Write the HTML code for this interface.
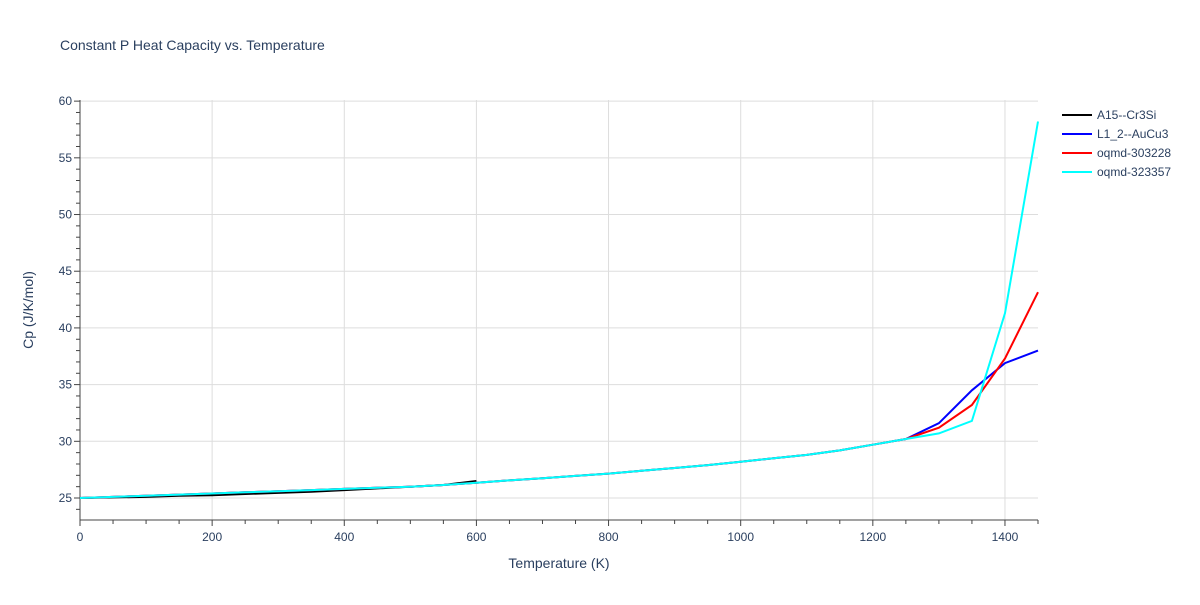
<!DOCTYPE html>
<html><head><meta charset="utf-8"><style>
body{margin:0;background:#fff;font-family:"Liberation Sans",sans-serif;}
svg text{font-family:"Liberation Sans",sans-serif;fill:#2a3f5f;}
</style></head><body>
<svg id="chart" width="1200" height="600">
<text x="60" y="50" font-size="14">Constant P Heat Capacity vs. Temperature</text>
<g id="grid"></g><g id="axes"></g><g id="series"></g><g id="legend"></g>
<text x="559" y="568" font-size="14" text-anchor="middle">Temperature (K)</text>
<text transform="translate(33,310) rotate(-90)" font-size="14" text-anchor="middle">Cp (J/K/mol)</text>
</svg>
<script>
const xTicks=[0,200,400,600,800,1000,1200,1400];
const yTicks=[25,30,35,40,45,50,55,60];
const tempsA=[0,50,100,150,200,250,300,350,400,450,500,550,600];
const cpA=[25.0,25.05,25.1,25.2,25.25,25.35,25.45,25.55,25.7,25.85,26.0,26.15,26.5];
const temps=[0,50,100,150,200,250,300,350,400,450,500,550,600,650,700,750,800,850,900,950,1000,1050,1100,1150,1200,1250,1300,1350,1400,1450];
const base=[25.0,25.1,25.2,25.3,25.4,25.5,25.6,25.7,25.8,25.9,26.0,26.15,26.35,26.55,26.75,26.95,27.15,27.4,27.65,27.9,28.2,28.5,28.8,29.2,29.7,30.2];
const cpB=base.concat([31.6,34.5,36.9,38.0]);
const cpR=base.concat([31.2,33.2,37.3,43.15]);
const cpC=base.concat([30.7,31.8,41.3,58.2]);
const names=["A15--Cr3Si","L1_2--AuCu3","oqmd-303228","oqmd-323357"];
const colors=["#000000","#0000ff","#ff0000","#00ffff"];
const L=80,R=1038,T=100,B=520,xmin=0,xmax=1450,ymin=23.06,ymax=60.1;
const X=v=>L+(v-xmin)/(xmax-xmin)*(R-L);
const Y=v=>B-(v-ymin)/(ymax-ymin)*(B-T);
const NS="http://www.w3.org/2000/svg";
function mk(tag,attrs,parent){const e=document.createElementNS(NS,tag);for(const k in attrs)e.setAttribute(k,attrs[k]);document.getElementById(parent).appendChild(e);return e;}
xTicks.forEach(t=>{
 if(t>0){const g=mk('line',{x1:X(t),x2:X(t),y1:T,y2:B,stroke:'#dddddd','stroke-width':1},'grid');
 
 }
 const tx=mk('text',{x:X(t),y:B+21,'font-size':12,'text-anchor':'middle'},'axes');tx.textContent=t;
 
 
});
yTicks.forEach(t=>{
 const g=mk('line',{x1:L,x2:R,y1:Y(t),y2:Y(t),stroke:'#dddddd','stroke-width':1},'grid');
 
 
 const tx=mk('text',{x:L-8,y:Y(t)+4,'font-size':12,'text-anchor':'end'},'axes');tx.textContent=t;
 
 
});
for(let v=0;v<=1450;v+=50){const tk=mk('line',{x1:X(v),x2:X(v),y1:B,y2:B+(v%200==0?6:4),stroke:'#444'},'axes');
 
 }
for(let v=24;v<=60;v+=1){const tk=mk('line',{x1:L,x2:L-(v%5==0?6:4),y1:Y(v),y2:Y(v),stroke:'#444'},'axes');
 
 }
const ax=mk('line',{x1:L,x2:R,y1:B,y2:B,stroke:'#444'},'axes');


const ay=mk('line',{x1:L,x2:L,y1:T,y2:B,stroke:'#444'},'axes');


const sets=[[tempsA,cpA],[temps,cpB],[temps,cpR],[temps,cpC]];
sets.forEach((s,i)=>{
 const d=s[0].map((t,j)=>(j?'L':'M')+X(t).toFixed(1)+','+Y(s[1][j]).toFixed(1)).join('');
 const p=mk('path',{d:d,fill:'none',stroke:colors[i],'stroke-width':2},'series');
 
 
 const y=115+i*19;
 const ll=mk('line',{x1:1062,x2:1092,y1:y,y2:y,stroke:colors[i],'stroke-width':2},'legend');
 
 
 const lt=mk('text',{x:1097,y:y+4,'font-size':12},'legend');lt.textContent=names[i];
 
 
});
</script>
</body></html>
